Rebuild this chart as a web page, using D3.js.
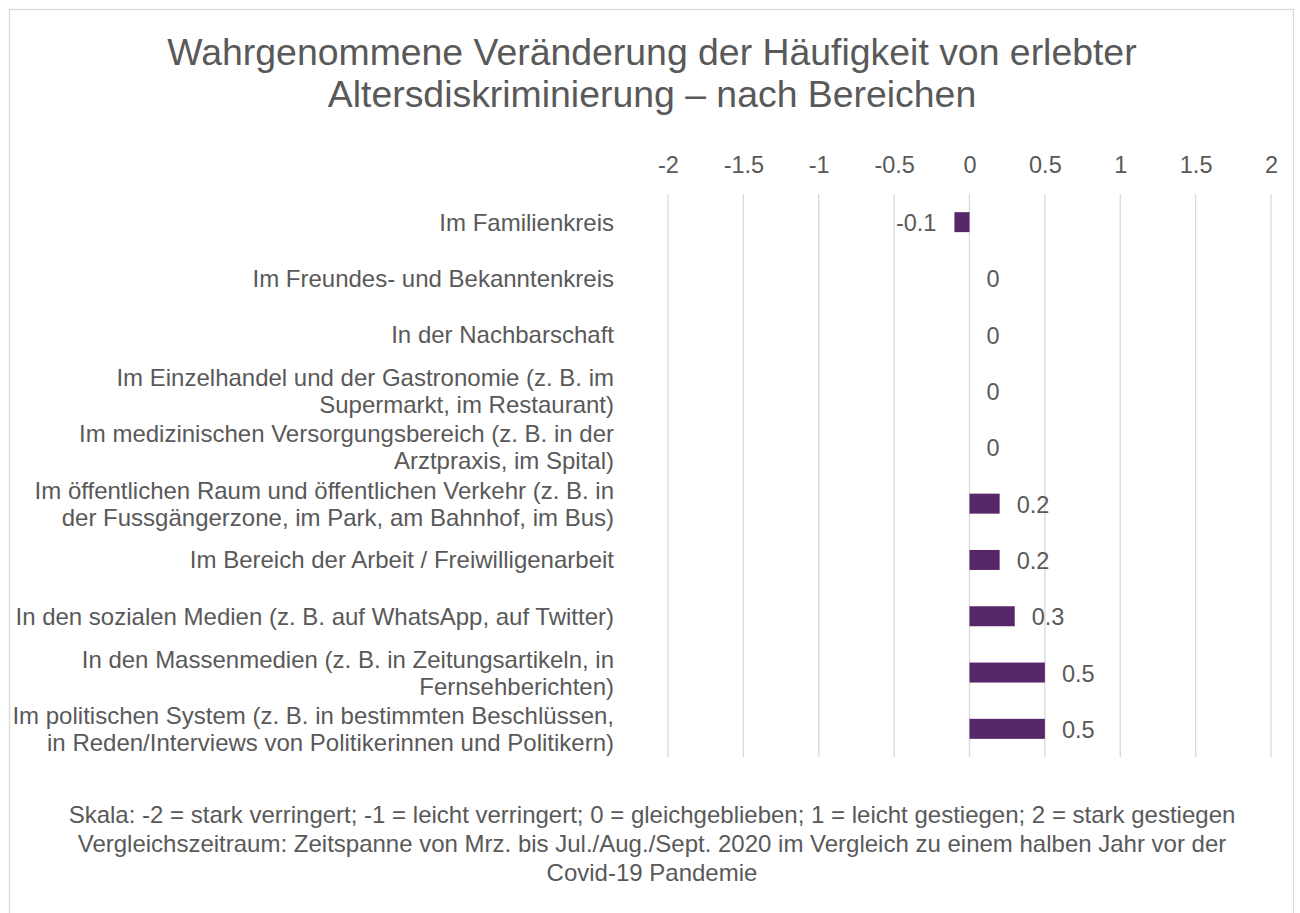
<!DOCTYPE html>
<html>
<head>
<meta charset="utf-8">
<script src="https://cdn.jsdelivr.net/npm/d3@7"></script>
<style>
  body { margin: 0; background: #fff; }
  svg text { font-family: Arial, "Liberation Sans", sans-serif; fill: #595959; }
</style>
</head>
<body>
<div id="chart"></div>
<script>
let titleLines = [
  "Wahrgenommene Veränderung der Häufigkeit von erlebter",
  "Altersdiskriminierung – nach Bereichen"
];

let categories = [
  "Im Familienkreis",
  "Im Freundes- und Bekanntenkreis",
  "In der Nachbarschaft",
  "Im Einzelhandel und der Gastronomie (z. B. im\nSupermarkt, im Restaurant)",
  "Im medizinischen Versorgungsbereich (z. B. in der\nArztpraxis, im Spital)",
  "Im öffentlichen Raum und öffentlichen Verkehr (z. B. in\nder Fussgängerzone, im Park, am Bahnhof, im Bus)",
  "Im Bereich der Arbeit / Freiwilligenarbeit",
  "In den sozialen Medien (z. B. auf WhatsApp, auf Twitter)",
  "In den Massenmedien (z. B. in Zeitungsartikeln, in\nFernsehberichten)",
  "Im politischen System (z. B. in bestimmten Beschlüssen,\nin Reden/Interviews von Politikerinnen und Politikern)"
];

let values = [-0.1, 0, 0, 0, 0, 0.2, 0.2, 0.3, 0.5, 0.5];

let tickValues = [-2, -1.5, -1, -0.5, 0, 0.5, 1, 1.5, 2];

let noteLines = [
  "Skala: -2 = stark verringert; -1 = leicht verringert; 0 = gleichgeblieben; 1 = leicht gestiegen; 2 = stark gestiegen",
  "Vergleichszeitraum: Zeitspanne von Mrz. bis Jul./Aug./Sept. 2020 im Vergleich zu einem halben Jahr vor der",
  "Covid-19 Pandemie"
];

let width = 1300,
height = 913;

let svg = d3.select("#chart")
.append("svg")
.attr("width", width)
.attr("height", height);

// chart frame
svg.append("rect")
.attr("x", 9.5)
.attr("y", 9.5)
.attr("width", 1284)
.attr("height", 920)
.attr("fill", "#fff")
.attr("stroke", "#d9d9d9")
.attr("stroke-width", 1.3);

svg.append("g")
.selectAll("text")
.data(titleLines)
.enter()
.append("text")
.attr("x", 652)
.attr("y", (d, i) => 65 + i * 41.5)
.attr("text-anchor", "middle")
.style("font-size", "37.4px")
.text(d => d);

let x = d3.scaleLinear()
.domain([-2, 2])
.range([668, 1271]);

let y = d3.scaleBand()
.domain(categories)
.range([194, 757])
.paddingInner(0.645)
.paddingOuter(0.3225);

// vertical grid
svg.append("g")
.selectAll("line")
.data(tickValues)
.enter()
.append("line")
.attr("x1", d => x(d))
.attr("x2", d => x(d))
.attr("y1", 194)
.attr("y2", 757)
.attr("stroke", "#d9d9d9")
.attr("stroke-width", 1.3);

let xAxis = svg.append("g")
.attr("transform", "translate(0,173)")
.call(d3.axisTop(x).tickValues(tickValues).tickSize(0).tickPadding(0).tickFormat(d => String(d)));

xAxis.select(".domain").remove();
xAxis.selectAll("text")
.attr("y", 0)
.attr("dy", 0)
.style("font-size", "23.5px")
.style("fill", "#595959");

// category labels
let labels = svg.append("g")
.selectAll("text")
.data(categories)
.enter()
.append("text")
.attr("text-anchor", "end")
.style("font-size", "24px");

labels.each(function(d) {
  let lines = d.split("\n");
  let cy = y(d) + y.bandwidth() / 2;
  d3.select(this)
  .selectAll("tspan")
  .data(lines)
  .enter()
  .append("tspan")
  .attr("x", 614)
  .attr("y", (l, i) => cy + 8.5 + (i - (lines.length - 1) / 2) * 27)
  .text(l => l);
});

// bars
svg.append("g")
.selectAll("rect")
.data(values)
.enter()
.append("rect")
.attr("x", d => x(Math.min(0, d)))
.attr("y", (d, i) => y(categories[i]))
.attr("width", d => Math.abs(x(d) - x(0)))
.attr("height", y.bandwidth())
.attr("fill", "#58276a");

// value labels
svg.append("g")
.selectAll("text")
.data(values)
.enter()
.append("text")
.attr("x", d => d < 0 ? x(d) - 18 : x(d) + 17)
.attr("y", (d, i) => y(categories[i]) + y.bandwidth() / 2 + 9)
.attr("text-anchor", d => d < 0 ? "end" : "start")
.style("font-size", "23.5px")
.text(d => String(d));

svg.append("g")
.selectAll("text")
.data(noteLines)
.enter()
.append("text")
.attr("x", 652)
.attr("y", (d, i) => 823 + i * 29)
.attr("text-anchor", "middle")
.style("font-size", "24px")
.text(d => d);
</script>
</body>
</html>
